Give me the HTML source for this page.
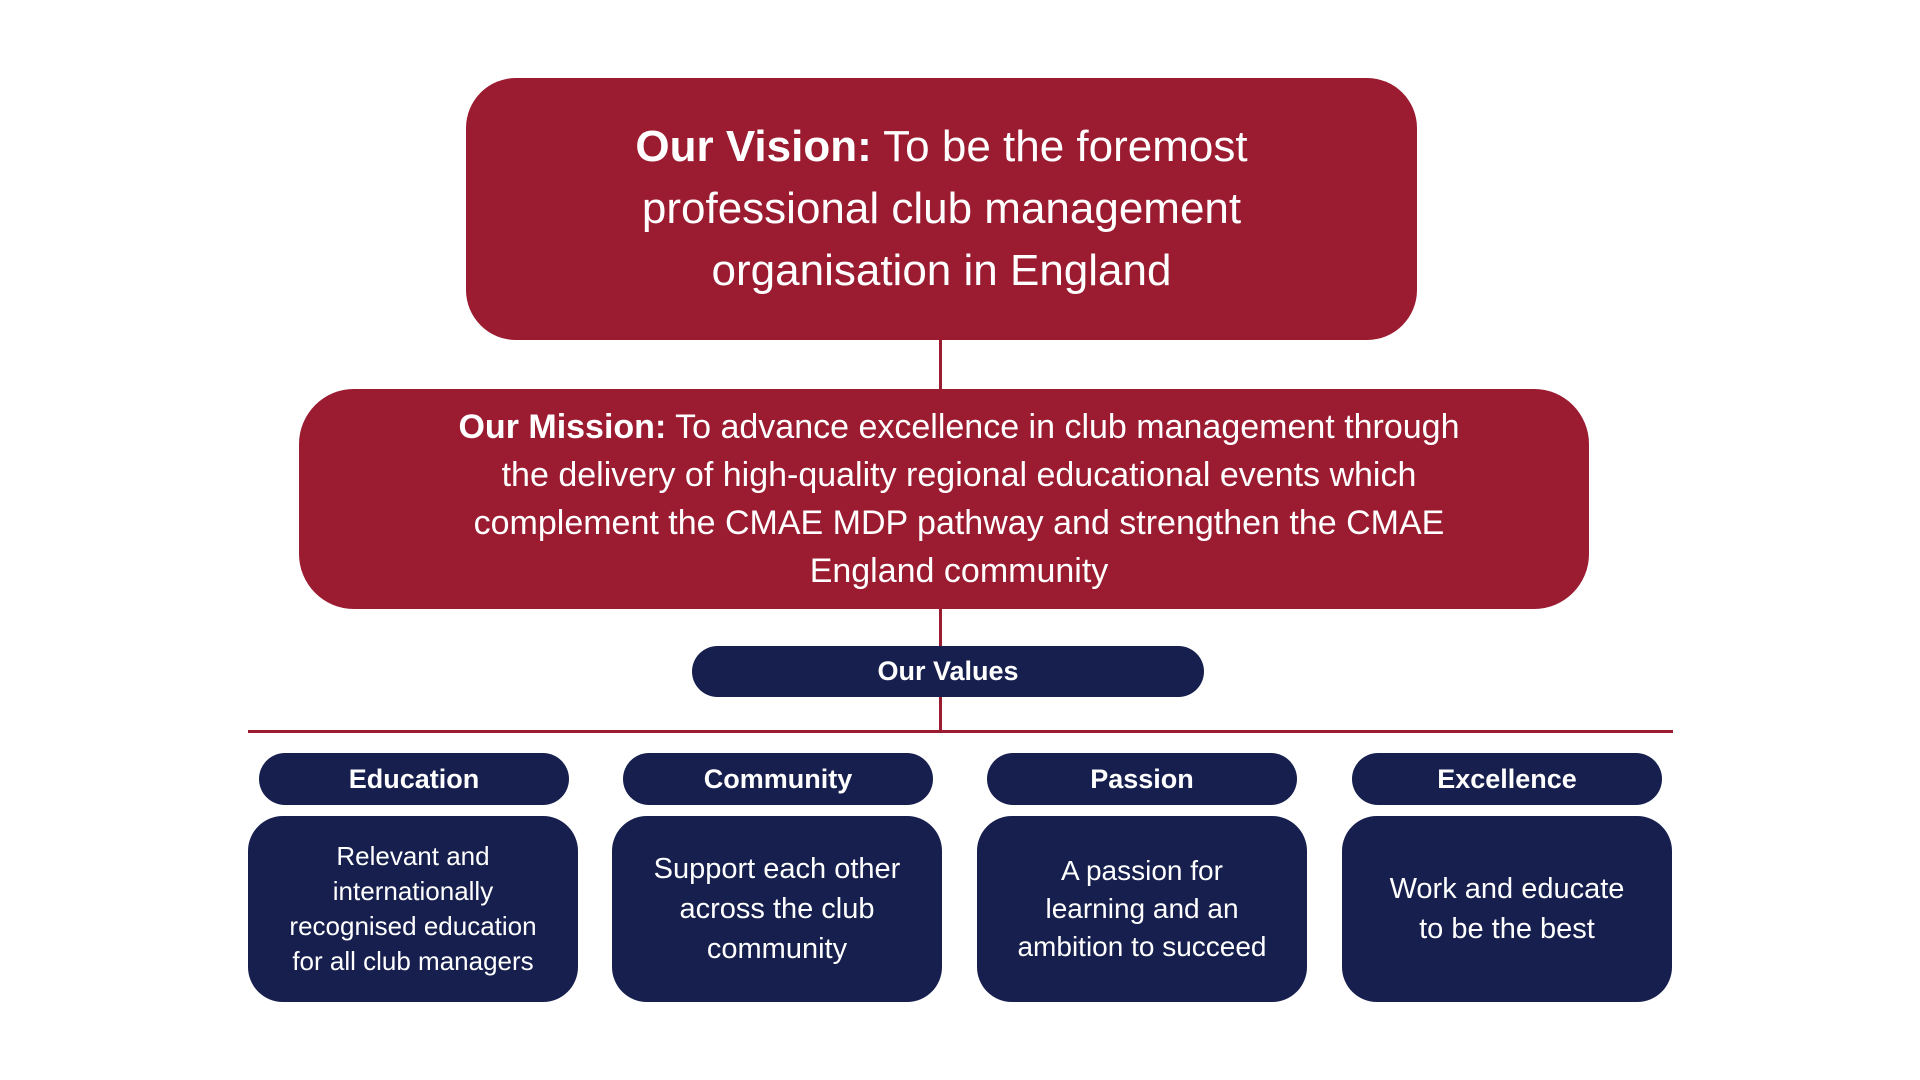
<!DOCTYPE html>
<html><head><meta charset="utf-8"><style>
body{margin:0;width:1920px;height:1080px;background:#fff;position:relative;overflow:hidden;font-family:"Liberation Sans",sans-serif;color:#fff}
.b{position:absolute;display:flex;align-items:center;justify-content:center;text-align:center;box-sizing:border-box}
.r{background:#9b1b30}.n{background:#161f4d}
.l{position:absolute;background:#9b1b30}
</style></head><body>
<div class="l" style="left:939px;top:338px;width:3px;height:55px"></div>
<div class="l" style="left:939px;top:606px;width:3px;height:126px"></div>
<div class="l" style="left:248px;top:730px;width:1425px;height:3px"></div>
<div class="b r" style="left:466px;top:78px;width:951px;height:262px;border-radius:50px;font-size:44px;line-height:62px;padding:0 40px"><div><b>Our Vision:</b> To be the foremost<br>professional club management<br>organisation in England</div></div>
<div class="b r" style="left:299px;top:389px;width:1290px;height:220px;border-radius:55px;font-size:34px;line-height:48px;padding-left:30px;white-space:nowrap"><div><b>Our Mission:</b> To advance excellence in club management through<br>the delivery of high-quality regional educational events which<br>complement the CMAE MDP pathway and strengthen the CMAE<br>England community</div></div>
<div class="b n" style="left:692px;top:646px;width:512px;height:51px;border-radius:26px;font-size:27px;font-weight:bold">Our Values</div>
<div class="b n" style="left:259px;top:753px;width:310px;height:52px;border-radius:26px;font-size:27px;font-weight:bold">Education</div>
<div class="b n" style="left:623px;top:753px;width:310px;height:52px;border-radius:26px;font-size:27px;font-weight:bold">Community</div>
<div class="b n" style="left:987px;top:753px;width:310px;height:52px;border-radius:26px;font-size:27px;font-weight:bold">Passion</div>
<div class="b n" style="left:1352px;top:753px;width:310px;height:52px;border-radius:26px;font-size:27px;font-weight:bold">Excellence</div>
<div class="b n" style="left:248px;top:816px;width:330px;height:186px;border-radius:35px;font-size:26px;line-height:35px">Relevant and<br>internationally<br>recognised education<br>for all club managers</div>
<div class="b n" style="left:612px;top:816px;width:330px;height:186px;border-radius:35px;font-size:29px;line-height:40px">Support each other<br>across the club<br>community</div>
<div class="b n" style="left:977px;top:816px;width:330px;height:186px;border-radius:35px;font-size:28px;line-height:38px">A passion for<br>learning and an<br>ambition to succeed</div>
<div class="b n" style="left:1342px;top:816px;width:330px;height:186px;border-radius:35px;font-size:29px;line-height:40px">Work and educate<br>to be the best</div>
</body></html>
